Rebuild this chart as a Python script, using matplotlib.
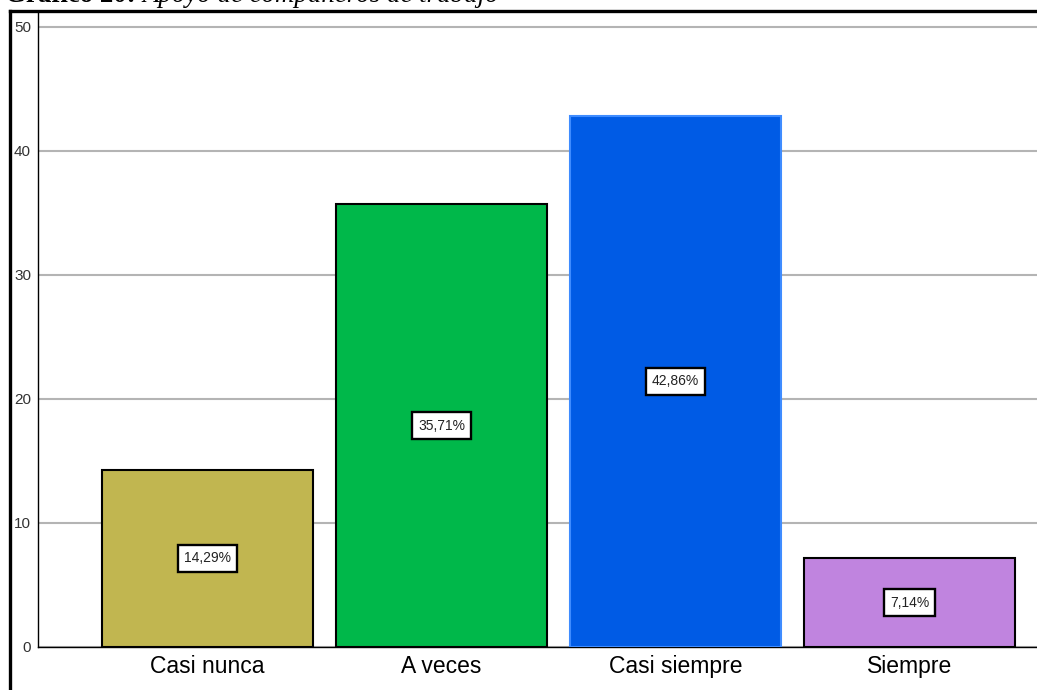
import matplotlib
matplotlib.use("Agg")
import matplotlib.pyplot as plt
from matplotlib.lines import Line2D

categories = ["Casi nunca", "A veces", "Casi siempre", "Siempre"]
values = [14.29, 35.71, 42.86, 7.14]
labels = ["14,29%", "35,71%", "42,86%", "7,14%"]
colors = ["#C1B650", "#00B84A", "#005BE5", "#C084DF"]
edges = ["#000000", "#000000", "#3F8CFF", "#000000"]
yticks = [0, 10, 20, 30, 40, 50]

W, H = 1037, 690
fig = plt.figure(figsize=(W / 100, H / 100), dpi=100)
plt.rcParams['font.family'] = ['Liberation Sans', 'DejaVu Sans']

ax_left, ax_right = 38, 1037
ax_top, ax_bottom = 12, 647
ax = fig.add_axes([ax_left / W, (H - ax_bottom) / H, (ax_right - ax_left) / W, (ax_bottom - ax_top) / H])

x = list(range(len(categories)))
ax.bar(x, values, width=0.9, color=colors, edgecolor=edges, linewidth=1.5, zorder=3)

for xi, v, lab in zip(x, values, labels):
    ax.text(xi, v / 2, lab, ha='center', va='center', fontsize=10, color='#222222', zorder=4,
            bbox=dict(boxstyle='square,pad=0.45', fc='white', ec='black', lw=1.7))

px_per_cat = 234
xmin = -(207.5 - ax_left) / px_per_cat
xmax = xmin + (ax_right - ax_left) / px_per_cat
ax.set_xlim(xmin, xmax)
ax.set_ylim(0, (ax_bottom - ax_top) / 12.4)
ax.set_yticks(yticks)
ax.set_yticklabels([str(t) for t in yticks], fontsize=11, color='#333333')
ax.set_xticks(x)
ax.set_xticklabels(categories, fontsize=16.5)
ax.tick_params(axis='y', length=0, pad=5)
ax.tick_params(axis='x', length=0, pad=6)
ax.grid(axis='y', color='#b4b4b4', linewidth=1.5, zorder=0)
for s in ['top', 'right']:
    ax.spines[s].set_visible(False)
ax.spines['left'].set_linewidth(1.0)
ax.spines['bottom'].set_linewidth(1.0)

# outer frame (left and top)
fx = 9.5 / W
fy = (H - 10.5) / H
fig.add_artist(Line2D([fx, fx], [0, fy], transform=fig.transFigure, color='black', lw=2.4))
fig.add_artist(Line2D([fx, 1.0], [fy, fy], transform=fig.transFigure, color='black', lw=2.4))

# title, cut at the top of the image as in the reference
base = (H - 2.0) / H
t1 = fig.text(5 / W, base, "Gráfico 20: ", fontsize=19.4, fontweight='bold',
              family='Liberation Serif', va='baseline', ha='left')
fig.canvas.draw()
bb = t1.get_window_extent()
fig.text(bb.x1 / W, base, "Apoyo de compañeros de trabajo", fontsize=19.4,
         style='italic', family='Liberation Serif', va='baseline', ha='left')

fig.savefig("out.png", dpi=100)
